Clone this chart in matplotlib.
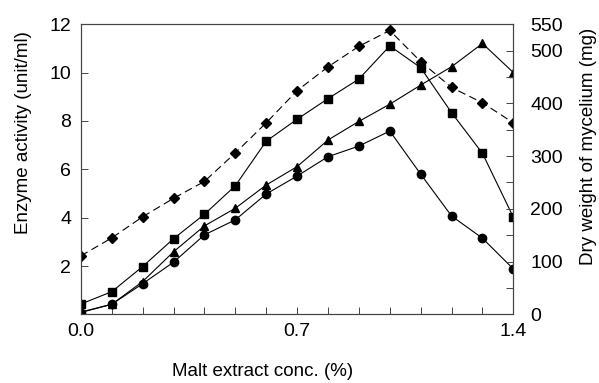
import matplotlib.pyplot as plt
import numpy as np

plt.rcParams['font.family'] = ['Liberation Sans', 'DejaVu Sans']

conc = [0.0, 0.1, 0.2, 0.3, 0.4, 0.5, 0.6, 0.7, 0.8, 0.9, 1.0, 1.1, 1.2, 1.3, 1.4]

# left axis (unit/ml)
enz_square = [0.43, 0.94, 1.98, 3.13, 4.14, 5.32, 7.16, 8.07, 8.92, 9.73, 11.10, 10.20, 8.34, 6.66, 4.02]
enz_triangle = [0.10, 0.42, 1.36, 2.59, 3.66, 4.39, 5.35, 6.11, 7.21, 7.98, 8.69, 9.48, 10.24, 11.20, 10.00]
enz_circle = [0.08, 0.42, 1.27, 2.16, 3.29, 3.91, 4.98, 5.72, 6.52, 6.96, 7.58, 5.80, 4.07, 3.15, 1.88]

# right axis (mg)
dry_weight = [111, 145, 185, 220, 252, 306, 363, 424, 469, 508, 538, 479, 430, 401, 363]

fig = plt.figure(figsize=(5.99, 3.83), dpi=100)
ax = fig.add_axes([0.135, 0.179, 0.722, 0.758])
ax2 = ax.twinx()

lw = 0.8
ax.plot(conc, enz_square, color='black', lw=lw, marker='s', ms=5.5)
ax.plot(conc, enz_triangle, color='black', lw=lw, marker='^', ms=6)
ax.plot(conc, enz_circle, color='black', lw=lw, marker='o', ms=6)
ax2.plot(conc, dry_weight, color='black', lw=lw, marker='D', ms=5, ls=(0, (7, 4)))

ax.set_xlim(0, 1.4)
ax.set_ylim(0, 12)
ax2.set_ylim(0, 550)

ax.set_xticks([0.0, 0.7, 1.4])
ax.set_xticklabels(['0.0', '0.7', '1.4'])
ax.set_xticks(np.arange(0, 1.41, 0.1), minor=True)
ax.set_yticks([2, 4, 6, 8, 10, 12])
ax2.set_yticks([0, 100, 200, 300, 400, 500, 550])
ax2.set_yticks(np.arange(0, 551, 50), minor=True)

for a in (ax, ax2):
    a.tick_params(which='both', direction='in', labelsize=14, width=0.7, color='#444444')
    a.tick_params(which='major', length=5)
    a.tick_params(which='minor', length=5)
    for s in a.spines.values():
        s.set_linewidth(0.8)
        s.set_color('#444444')
ax.tick_params(axis='x', pad=6)
ax.tick_params(axis='y', pad=7)
ax2.tick_params(axis='y', pad=12)

ax.set_xlabel('Malt extract conc. (%)', fontsize=13.5, va='center')
ax.set_ylabel('Enzyme activity (unit/ml)', fontsize=13.5, va='center')
ax2.set_ylabel('Dry weight of mycelium (mg)', fontsize=13.5, va='center')
ax.xaxis.set_label_coords(0.419, -0.198)
ax.yaxis.set_label_coords(-0.132, 0.625)
ax2.yaxis.set_label_coords(1.174, 0.58)

fig.savefig('out.png', dpi=100)
